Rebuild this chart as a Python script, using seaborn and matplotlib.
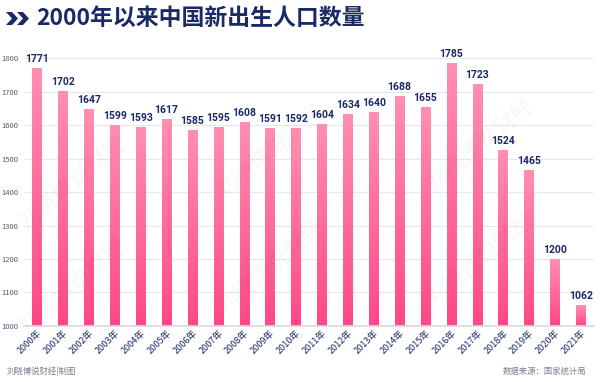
import numpy as np
import pandas as pd
import matplotlib
matplotlib.use("Agg")
import matplotlib.pyplot as plt
from matplotlib.patches import Polygon
import seaborn as sns

years = ["2000年", "2001年", "2002年", "2003年", "2004年", "2005年", "2006年", "2007年",
         "2008年", "2009年", "2010年", "2011年", "2012年", "2013年", "2014年", "2015年",
         "2016年", "2017年", "2018年", "2019年", "2020年", "2021年"]
births = [1771, 1702, 1647, 1599, 1593, 1617, 1585, 1595, 1608, 1591, 1592, 1604,
          1634, 1640, 1688, 1655, 1785, 1723, 1524, 1465, 1200, 1062]
yticks = [1000, 1100, 1200, 1300, 1400, 1500, 1600, 1700, 1800]

df = pd.DataFrame({"year": years, "births": births})

sns.set_theme(style="white")
plt.rcParams['font.family'] = ['Noto Sans CJK SC', 'DejaVu Sans']

navy = "#1b2a66"
ymin, ymax = 1000, 1840
fig = plt.figure(figsize=(6.01, 3.82), dpi=100)
ax = fig.add_axes([0.040, 0.147, 0.948, 0.735])

sns.barplot(data=df, x="year", y="births", color="#ff6f9c", width=0.36, ax=ax,
            saturation=1, zorder=3)
ax.set_ylim(ymin, ymax)
ax.set_yticks(yticks)
ax.yaxis.grid(True, color="#e8e8ec", linewidth=0.8, zorder=0)
ax.set_axisbelow(True)

# gradient fill for each bar
grad = np.linspace(0, 1, 256).reshape(-1, 1)
cmap = matplotlib.colors.LinearSegmentedColormap.from_list("pk", ["#ff4886", "#ff8fb0"])
for p in ax.patches:
    x0, w = p.get_x(), p.get_width()
    top = p.get_y() + p.get_height()
    ax.imshow(grad, extent=[x0, x0 + w, ymin, top], origin="lower",
              cmap=cmap, aspect="auto", zorder=4)
    p.set_visible(False)
ax.set_xlim(-0.5, len(years) - 0.5)
ax.set_ylim(ymin, ymax)

for i, v in enumerate(births):
    ax.text(i, v + 13, str(v), ha="center", va="bottom", fontsize=7.5,
            fontweight="bold", color=navy, zorder=5, family=["Roboto", "DejaVu Sans"])

ax.set_xlabel("")
ax.set_ylabel("")
ax.tick_params(axis="y", labelsize=5.5, labelcolor="#555a70", length=0, pad=4)
ax.tick_params(axis="x", labelsize=6.5, labelcolor=navy, length=0, pad=2)
plt.setp(ax.get_xticklabels(), rotation=45, ha="right", rotation_mode="anchor",
         fontweight="medium")
for s in ["top", "right", "left"]:
    ax.spines[s].set_visible(False)
ax.spines["bottom"].set_color("#d8d8de")
ax.spines["bottom"].set_linewidth(1.2)
ax.spines["bottom"].set_zorder(6)

# watermarks
for (wx, wy) in [(0.12, 0.52), (0.12, 0.25), (0.45, 0.6), (0.45, 0.3),
                 (0.8, 0.62), (0.8, 0.32)]:
    fig.text(wx, wy, "刘晓博说财经", fontsize=16, color="#000000", alpha=0.035,
             rotation=40, ha="center", va="center")

# title
H = 382
for dx in (0, 11):
    fig.patches.append(Polygon(
        [(6 + dx, H - 12), (12 + dx, H - 12), (18 + dx, H - 18.5),
         (12 + dx, H - 25), (6 + dx, H - 25), (12 + dx, H - 18.5)],
        closed=True, transform=None, facecolor=navy, edgecolor="none"))
fig.text(36 / 601, 1 - 18.5 / H, "2000年以来中国新出生人口数量", fontsize=16.5,
         fontweight="heavy", color=navy, ha="left", va="center")

fig.text(7 / 601, 1 - 371 / H, "刘晓博说财经|制图", fontsize=6, color="#7a7e8e",
         ha="left", va="center")
fig.text(586 / 601, 1 - 371 / H, "数据来源：国家统计局", fontsize=6, color="#7a7e8e",
         ha="right", va="center")

fig.savefig("out.png", dpi=100)
